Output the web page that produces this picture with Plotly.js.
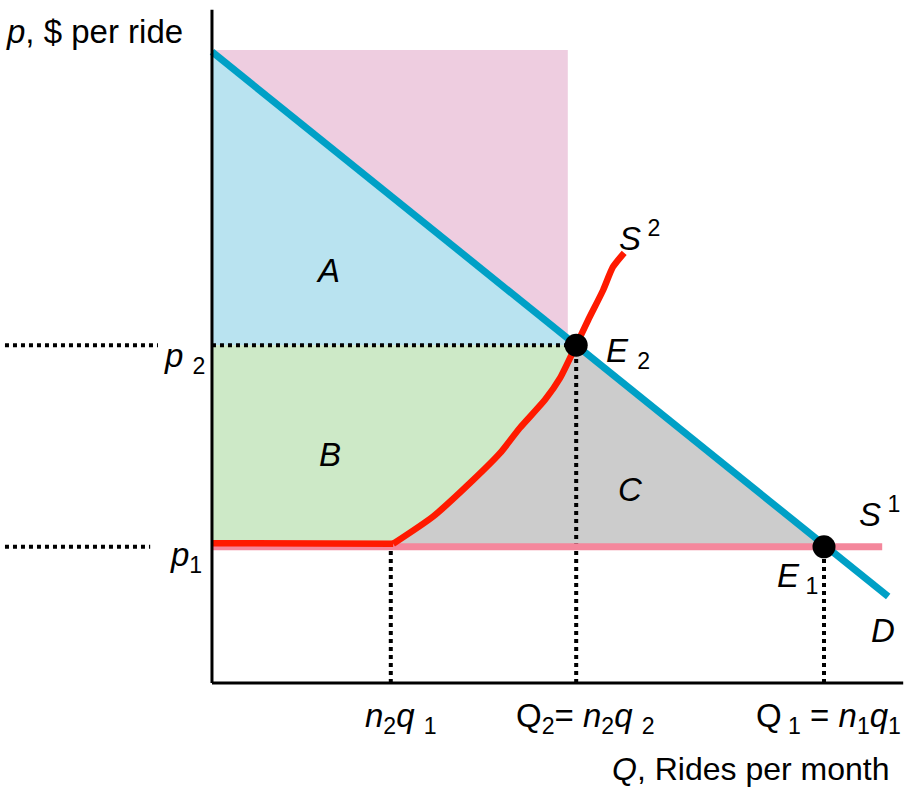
<!DOCTYPE html>
<html><head><meta charset="utf-8">
<script src="https://cdn.plot.ly/plotly-3.0.1.min.js"></script>
<style>html,body{margin:0;padding:0;background:#fff}#chart{width:908px;height:788px}</style>
</head><body><div id="chart"></div>
<script>
// ---- data (economic units) ----
const p1 = 2.27, p2 = 5.63, pTop = 10.55;
const Q2 = 6.07, Q1 = 10.2, n2q1 = 2.98;
const pinkRectQ = 5.93;
const demandQ = [0, 11.27];
const demandP = [10.52, 1.44];
const s1Q = [0, 11.17];
const s1P = [p1, p1];
const s2Q = [0, 3.02, 3.68, 4.35, 4.8, 5.13, 5.55, 5.8, 6.07, 6.27, 6.52, 6.68, 6.87];
const s2P = [2.33, 2.32, 2.77, 3.38, 3.83, 4.25, 4.72, 5.08, 5.63, 6.05, 6.55, 6.93, 7.17];
const eqQ = [Q2, Q1];
const eqP = [p2, p1];
const axisX = [0, 11.52];
const axisY = [0, 11.22];
const guideLeft = [-3.45, -0.9, -1.03];
const tickLabels = ["<i>n</i><sub>2</sub><i>q</i> <sub>1</sub>", "Q<sub>2</sub>= <i>n</i><sub>2</sub><i>q</i> <sub>2</sub>", "Q<sub> 1</sub> = <i>n</i><sub>1</sub><i>q</i><sub>1</sub>"];
const tickQ = [n2q1, Q2, Q1];

// ---- regions ----
const kink = 1, e2i = 8;
const greenQ = [0, Q2].concat(s2Q.slice(kink, e2i + 1).reverse(), [0]);
const greenP = [p2, p2].concat(s2P.slice(kink, e2i + 1).reverse(), [s2P[0]]);
const grayQ = s2Q.slice(kink, e2i + 1).concat([Q1, s2Q[kink]]);
const grayP = [p1].concat(s2P.slice(kink + 1, e2i + 1), [p1, p1]);
const blueQ = [0, Q2, 0];
const blueP = [demandP[0], p2, p2];
const pinkQ = [0, pinkRectQ, pinkRectQ, 0];
const pinkP = [p2, p2, pTop, pTop];

const FONT = "Liberation Sans, Arial, sans-serif";
function fill(x, y, c) {
  return {x, y, type: "scatter", mode: "lines", fill: "toself", fillcolor: c, line: {width: 0}, hoverinfo: "skip"};
}
function line(x, y, c, w, dash, shape) {
  return {x, y, type: "scatter", mode: "lines", line: {color: c, width: w, dash: dash || "solid", shape: shape || "linear", smoothing: 0.6}, hoverinfo: "skip"};
}
const traces = [
  fill(pinkQ, pinkP, "#eecde0"),
  fill(blueQ, blueP, "#b9e3f0"),
  fill(greenQ, greenP, "#cde9c7"),
  fill(grayQ, grayP, "#cccccc"),
  line([guideLeft[0], guideLeft[1]], [p2, p2], "#000", 4, "dot"),
  line([0, Q2], [p2, p2], "#000", 4, "dot"),
  line([guideLeft[0], guideLeft[2]], [p1, p1], "#000", 4, "dot"),
  line([n2q1, n2q1], [0, p1], "#000", 4, "dot"),
  line([Q2, Q2], [0, p2], "#000", 4, "dot"),
  line([Q1, Q1], [0, p1], "#000", 4, "dot"),
  line(s1Q, s1P, "#f4879c", 7),
  line(s2Q.slice(0, kink + 1), s2P.slice(0, kink + 1), "#ff1a00", 6.5),
  line(s2Q.slice(kink), s2P.slice(kink), "#ff1a00", 6.5, "solid", "spline"),
  line(demandQ, demandP, "#00a0c6", 7),
  line([0, 0], axisY, "#000", 3),
  line(axisX, [0, 0], "#000", 3),
  {x: eqQ, y: eqP, type: "scatter", mode: "markers", marker: {color: "#000", size: 23}, hoverinfo: "skip"}
];

function ann(text, x, y, xa, size) {
  return {text, x, y, xref: "x", yref: "y", xanchor: xa || "center", yanchor: "middle", showarrow: false,
          borderpad: 0, font: {family: FONT, size: size || 33, color: "#000"}};
}
const annotations = [
  ann("<i>p</i>, $ per ride", -3.45, 10.85, "left"),
  ann("<i>p</i> <sub>2</sub>", -0.1, 5.42, "right"),
  ann("<i>p</i><sub>1</sub>", -0.15, 2.1, "right"),
  ann(tickLabels[0], tickQ[0] + 0.17, -0.58),
  ann(tickLabels[1], tickQ[1] + 0.16, -0.58),
  ann(tickLabels[2], tickQ[2] + 0.08, -0.58),
  ann("<i>Q</i>, Rides per month", 11.3, -1.43, "right", 32),
  ann("<i>A</i>", 1.93, 6.88),
  ann("<i>B</i>", 1.97, 3.8),
  ann("<i>C</i>", 6.97, 3.22),
  ann("<i>E</i> <sub>2</sub>", 6.55, 5.5, "left"),
  ann("<i>E</i><sub> 1</sub>", 9.75, 1.75),
  ann("<i>S</i><sup> 1</sup>", 11.13, 2.85),
  ann("<i>S</i><sup> 2</sup>", 7.13, 7.45),
  ann("<i>D</i>", 11.18, 0.88)
];

const layout = {
  width: 908, height: 788,
  margin: {l: 0, r: 0, t: 0, b: 0, pad: 0},
  paper_bgcolor: "#fff", plot_bgcolor: "#fff",
  showlegend: false,
  xaxis: {range: [-3.533, 11.6], visible: false, fixedrange: true},
  yaxis: {range: [-1.75, 11.383], visible: false, fixedrange: true},
  annotations
};
Plotly.newPlot("chart", traces, layout, {staticPlot: true, displayModeBar: false});
</script></body></html>
